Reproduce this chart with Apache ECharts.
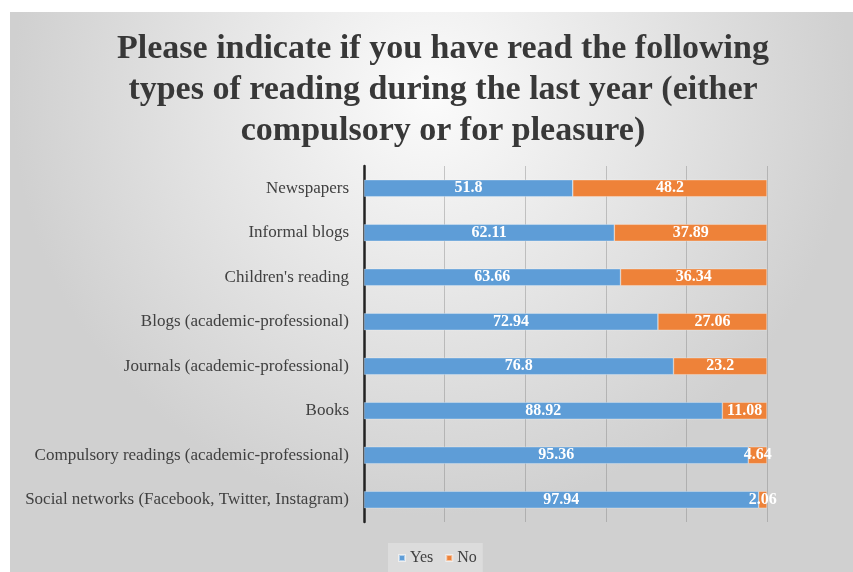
<!DOCTYPE html>
<html>
<head>
<meta charset="utf-8">
<script src="https://cdn.jsdelivr.net/npm/echarts@6/dist/echarts.min.js"></script>
<style>
  html, body { margin: 0; padding: 0; background: #fff; }
  #main { width: 853px; height: 572px; }
</style>
</head>
<body>
<div id="main"></div>
<script>
const categories = [
  'Newspapers',
  'Informal blogs',
  "Children's reading",
  'Blogs (academic-professional)',
  'Journals (academic-professional)',
  'Books',
  'Compulsory readings (academic-professional)',
  'Social networks (Facebook, Twitter, Instagram)'
];
const yesValues = [51.8, 62.11, 63.66, 72.94, 76.8, 88.92, 95.36, 97.94];
const noValues = [48.2, 37.89, 36.34, 27.06, 23.2, 11.08, 4.64, 2.06];

const serif = "'Liberation Serif', 'Times New Roman', serif";

const chart = echarts.init(document.getElementById('main'));

const labelStyle = {
  show: true,
  position: 'inside',
  color: '#fff',
  fontFamily: serif,
  fontWeight: 'bold',
  fontSize: 16
};

chart.setOption({
  backgroundColor: '#fff',
  graphic: [{
    type: 'rect',
    z: -100,
    shape: { x: 10, y: 12, width: 843, height: 560 },
    style: {
      fill: new echarts.graphic.RadialGradient(0.5, 0.15, 0.75, [
        { offset: 0, color: '#fbfbfb' },
        { offset: 1, color: '#d0d0d0' }
      ])
    },
    silent: true
  }],
  title: {
    text: 'Please indicate if you have read the following\ntypes of reading during the last year (either\ncompulsory or for pleasure)',
    left: 438,
    top: 24,
    textAlign: 'center',
    textStyle: {
      fontFamily: serif,
      fontWeight: 'bold',
      fontSize: 34,
      lineHeight: 41,
      color: '#383838'
    }
  },
  legend: {
    data: ['Yes', 'No'],
    left: 388,
    bottom: 0,
    icon: 'rect',
    itemWidth: 6,
    itemHeight: 6,
    itemGap: 12,
    padding: [7, 6, 6, 10],
    backgroundColor: 'rgba(255,255,255,0.25)',
    textStyle: { fontFamily: serif, fontSize: 16, color: '#404040' }
  },
  grid: { left: 364, right: 86, top: 166, bottom: 50, containLabel: false },
  xAxis: {
    type: 'value',
    min: 0,
    max: 100,
    interval: 20,
    axisLabel: { show: false },
    axisLine: { show: false },
    axisTick: { show: false },
    splitLine: { lineStyle: { color: 'rgba(120,120,120,0.38)', width: 1 } }
  },
  yAxis: {
    type: 'category',
    data: categories,
    inverse: true,
    axisLine: { lineStyle: { color: '#222', width: 2.5 } },
    axisTick: { show: false },
    axisLabel: { fontFamily: serif, fontSize: 17, color: '#404040', margin: 15 }
  },
  series: [
    {
      name: 'Yes',
      type: 'bar',
      stack: 'total',
      barWidth: 17,
      data: yesValues,
      itemStyle: { color: '#5e9dd7', borderColor: 'rgba(255,255,255,0.5)', borderWidth: 0.6 },
      label: labelStyle
    },
    {
      name: 'No',
      type: 'bar',
      stack: 'total',
      barWidth: 17,
      data: noValues,
      itemStyle: { color: '#ee8239', borderColor: 'rgba(255,255,255,0.5)', borderWidth: 0.6 },
      label: labelStyle
    }
  ]
});
</script>
</body>
</html>
